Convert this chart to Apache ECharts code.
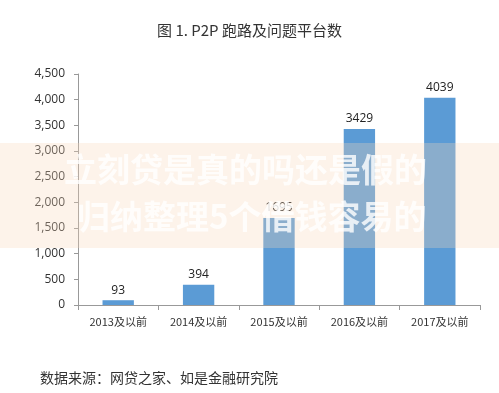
<!DOCTYPE html>
<html><head><meta charset="utf-8">
<script src="https://cdn.jsdelivr.net/npm/echarts@6/dist/echarts.min.js"></script>
<style>html,body{margin:0;padding:0;background:#fff}#c{width:499px;height:393px}</style>
</head><body><div id="c"></div>
<script>
const categories = ['2013及以前','2014及以前','2015及以前','2016及以前','2017及以前'];
const values = [93, 394, 1695, 3429, 4039];
const titleText = '图 1. P2P 跑路及问题平台数';
const sourceText = '数据来源：网贷之家、如是金融研究院';
const overlayLines = ['立刻贷是真的吗还是假的', '归纳整理5个借钱容易的'];

const chart = echarts.init(document.getElementById('c'));
chart.setOption({
  animation: false,
  backgroundColor: '#fff',
  title: {
    text: titleText, left: 'center', top: 18,
    textStyle: {fontFamily: 'Noto Sans CJK SC', fontSize: 15, fontWeight: 'normal', color: '#333'}
  },
  grid: {left: 78, right: 19, top: 74, bottom: 88},
  xAxis: {
    type: 'category', data: categories,
    axisLine: {lineStyle: {color: '#999'}},
    axisTick: {show: true, alignWithLabel: false, length: 5, lineStyle: {color: '#999'}},
    axisLabel: {color: '#333', fontSize: 11, margin: 11, fontFamily: 'Noto Sans CJK SC'}
  },
  yAxis: {
    type: 'value', min: 0, max: 4500, interval: 500,
    axisLine: {show: true, lineStyle: {color: '#999'}},
    axisTick: {show: true, length: 4, lineStyle: {color: '#999'}},
    splitLine: {show: false},
    axisLabel: {color: '#333', fontSize: 12, margin: 13, fontFamily: 'Open Sans',
      formatter: v => v.toLocaleString('en-US')}
  },
  series: [{
    type: 'bar', data: values, barWidth: '39%',
    itemStyle: {color: '#5b9bd5'},
    label: {show: true, position: 'top', color: '#222', fontSize: 12, fontFamily: 'Open Sans', distance: 4}
  }],
  graphic: [
    {type: 'rect', left: 0, top: 143, shape: {width: 499, height: 105}, z: 100,
      style: {fill: 'rgba(250,215,185,0.3)'}},
    {type: 'text', left: 64, top: 153, z: 101,
      style: {text: overlayLines[0], fill: 'rgba(255,255,255,0.8)', font: 'bold 33px "Noto Sans CJK SC"'}},
    {type: 'text', left: 77, top: 200, z: 101,
      style: {text: overlayLines[1], fill: 'rgba(255,255,255,0.8)', font: 'bold 33px "Noto Sans CJK SC"'}},
    {type: 'text', left: 40, top: 371, z: 10,
      style: {text: sourceText, fill: '#333', font: '14px "Noto Sans CJK SC"'}}
  ]
});
</script></body></html>
